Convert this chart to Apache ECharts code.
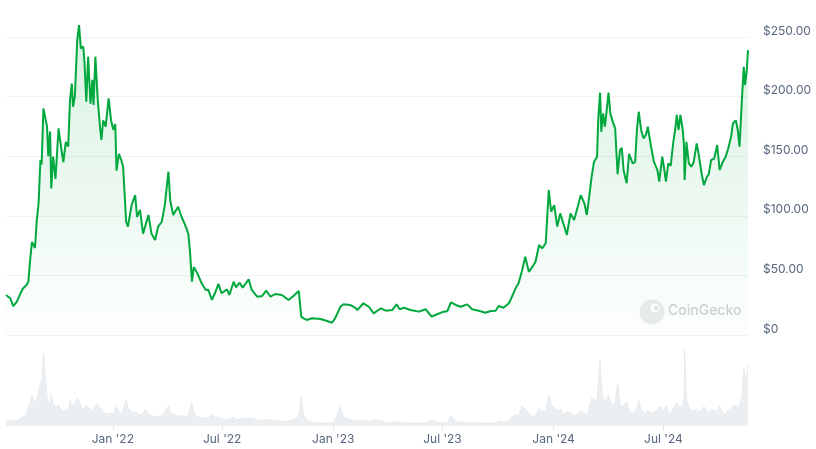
<!DOCTYPE html>
<html><head><meta charset="utf-8">
<script src="https://cdn.jsdelivr.net/npm/echarts@6/dist/echarts.min.js"></script>
<style>html,body{margin:0;padding:0;background:#fff}#c{width:816px;height:449px}</style>
</head><body><div id="c"></div>
<script>
const dates = ["2021-07-08","2021-07-15","2021-07-20","2021-07-26","2021-08-01","2021-08-05","2021-08-11","2021-08-14","2021-08-17","2021-08-20","2021-08-25","2021-08-28","2021-08-31","2021-09-03","2021-09-05","2021-09-08","2021-09-14","2021-09-16","2021-09-19","2021-09-21","2021-09-24","2021-09-28","2021-10-03","2021-10-08","2021-10-11","2021-10-15","2021-10-19","2021-10-22","2021-10-25","2021-10-27","2021-10-30","2021-11-03","2021-11-06","2021-11-09","2021-11-13","2021-11-15","2021-11-18","2021-11-21","2021-11-25","2021-11-28","2021-11-30","2021-12-03","2021-12-07","2021-12-11","2021-12-13","2021-12-16","2021-12-20","2021-12-25","2021-12-29","2022-01-02","2022-01-05","2022-01-07","2022-01-11","2022-01-15","2022-01-18","2022-01-23","2022-01-26","2022-02-01","2022-02-07","2022-02-10","2022-02-15","2022-02-20","2022-02-24","2022-03-01","2022-03-06","2022-03-12","2022-03-17","2022-03-23","2022-03-28","2022-04-03","2022-04-06","2022-04-11","2022-04-19","2022-04-25","2022-05-01","2022-05-06","2022-05-09","2022-05-12","2022-05-15","2022-05-21","2022-05-28","2022-06-04","2022-06-08","2022-06-14","2022-06-19","2022-06-25","2022-06-30","2022-07-09","2022-07-13","2022-07-20","2022-07-24","2022-07-30","2022-08-04","2022-08-14","2022-08-19","2022-08-28","2022-09-05","2022-09-12","2022-09-19","2022-09-27","2022-10-08","2022-10-19","2022-10-27","2022-11-05","2022-11-09","2022-11-13","2022-11-18","2022-11-27","2022-12-11","2022-12-22","2022-12-30","2023-01-04","2023-01-13","2023-01-18","2023-01-29","2023-02-06","2023-02-10","2023-02-20","2023-03-01","2023-03-09","2023-03-21","2023-03-29","2023-04-09","2023-04-16","2023-04-21","2023-04-28","2023-05-09","2023-05-23","2023-06-03","2023-06-13","2023-06-22","2023-07-03","2023-07-09","2023-07-15","2023-07-23","2023-07-31","2023-08-11","2023-08-19","2023-08-30","2023-09-10","2023-09-19","2023-09-27","2023-10-02","2023-10-10","2023-10-19","2023-10-24","2023-10-30","2023-11-04","2023-11-10","2023-11-15","2023-11-21","2023-11-27","2023-12-02","2023-12-08","2023-12-13","2023-12-19","2023-12-24","2023-12-28","2024-01-02","2024-01-07","2024-01-12","2024-01-17","2024-01-23","2024-01-29","2024-02-04","2024-02-10","2024-02-15","2024-02-21","2024-02-25","2024-02-29","2024-03-04","2024-03-08","2024-03-13","2024-03-15","2024-03-18","2024-03-20","2024-03-23","2024-03-26","2024-03-29","2024-04-01","2024-04-04","2024-04-08","2024-04-12","2024-04-16","2024-04-20","2024-04-23","2024-04-26","2024-05-01","2024-05-05","2024-05-11","2024-05-15","2024-05-18","2024-05-21","2024-05-25","2024-05-29","2024-06-02","2024-06-05","2024-06-10","2024-06-15","2024-06-21","2024-06-24","2024-06-29","2024-07-02","2024-07-05","2024-07-09","2024-07-13","2024-07-17","2024-07-21","2024-07-23","2024-07-26","2024-07-29","2024-08-02","2024-08-04","2024-08-05","2024-08-08","2024-08-12","2024-08-16","2024-08-20","2024-08-25","2024-08-29","2024-09-02","2024-09-06","2024-09-11","2024-09-14","2024-09-18","2024-09-23","2024-09-28","2024-10-02","2024-10-07","2024-10-12","2024-10-16","2024-10-21","2024-10-24","2024-10-29","2024-11-01","2024-11-04","2024-11-08","2024-11-11","2024-11-13","2024-11-16","2024-11-18"];
const prices = [33.5,30.8,24.3,28,35,39,42,44.7,63,78,73,96.5,110.7,146.8,143,190,174.8,150,170.6,123,149.6,131,173.4,155,145,162,158,197,211,191.5,200,247.5,260,240.5,242,229,195.7,233.5,194,214,193,233.5,197,173,163.6,180,174.7,198.6,180,172,177,138,152,146.8,141,95,91,109,117.4,99,104.9,85,92,100.7,85,79.7,91,95,109,137,113,100.7,107.6,99,92,85,68.5,44.7,57,51.7,43.4,37.8,38,29.4,35,42.8,35,38.3,33.6,44.7,40,43.9,39.7,46.7,37.8,32.1,32.7,37.2,32.1,34.4,33.6,29.4,32.7,36.9,15.4,14,12.6,14,13.4,11.7,10.3,14,23.7,25.8,25.2,23,21,26.6,23.7,18.2,22.4,20.4,21,25.7,21.6,22.9,21,19.6,21.6,15.4,17.4,19.6,20,27.4,25.2,23.7,25.7,21.6,20.4,18.7,20.1,20.4,24.3,22.9,26.6,32.1,39.2,43.4,54.5,65.7,53,57.3,61.5,75.5,72.7,77,121.6,103.4,109,91,102,93.7,84,102,96.5,107.6,117.4,110.5,100.7,116,132.8,145.4,149.6,181.8,203.3,170.6,186,174.7,188.8,203.3,186,179,173.4,135,155.2,157,138,127.3,152,144,145,172,187.3,172,165,168,174.7,159.4,145.4,138.4,128.6,149.6,140,128.6,144,142,160.8,174.7,184.6,172,184.6,172,158,130,162,144,141.2,145,160.8,149.6,135.7,125.8,132.8,135,146.8,148,159.4,138.4,145,149.6,156,166.4,177.6,180,172,158,198.6,225,209.7,222.3,239];
const volumes = [0.7,0.6,0.6,0.7,1.0,1.2,1.5,2.8,3.5,4.5,3.0,3.8,5.0,6.5,5.0,10.8,4.2,3.5,3.0,4.5,3.2,2.5,3.0,2.2,2.0,2.2,2.0,3.8,3.5,2.8,2.5,4.0,3.8,3.0,2.2,2.4,3.0,2.6,2.4,2.0,2.6,2.8,3.2,2.0,2.6,2.0,1.8,1.6,1.8,1.6,1.8,2.8,2.0,1.5,1.6,3.8,2.6,2.0,1.9,1.7,1.5,1.6,2.4,1.7,1.4,1.2,1.3,1.4,2.0,2.8,2.0,1.6,1.3,1.4,1.3,1.4,2.6,3.4,1.8,1.2,1.1,1.0,1.0,1.7,1.1,1.2,0.9,0.8,0.9,1.2,0.8,0.9,1.0,1.0,1.0,0.7,0.7,0.8,0.7,0.7,0.5,0.6,0.8,1.2,4.2,1.5,0.8,0.4,0.3,0.3,0.3,0.8,2.8,1.2,0.8,0.6,0.6,0.8,0.5,0.7,0.6,0.4,0.3,0.5,0.4,0.3,0.3,0.3,0.3,0.7,0.4,0.3,0.3,1.4,0.5,0.4,0.3,0.4,0.3,0.3,0.3,0.3,0.6,0.4,0.6,1.2,1.5,1.4,2.8,2.4,1.8,1.2,1.4,2.4,2.0,2.2,4.4,3.2,2.6,2.2,2.4,1.6,2.0,1.8,1.3,1.6,2.2,1.8,1.5,2.4,4.0,3.8,3.6,6.5,9.6,6.0,4.0,3.5,3.3,4.5,3.5,3.0,3.5,6.2,3.2,2.6,2.4,3.5,2.2,1.6,2.2,2.6,3.8,2.2,2.0,1.6,2.2,1.8,2.0,2.2,2.8,2.6,2.0,3.0,2.0,1.6,2.6,3.0,3.4,2.8,3.0,2.8,4.0,11.4,4.0,2.6,2.2,2.2,2.4,2.0,2.2,2.8,2.0,1.5,2.4,2.2,2.0,2.8,1.8,1.6,2.2,2.4,2.8,3.0,2.4,3.0,4.5,8.5,8.8,6.0,9.0];
const priceTickValues = [0, 50, 100, 150, 200, 250];
const timeTickDates = ["2022-01-01","2022-07-01","2023-01-01","2023-07-01","2024-01-01","2024-07-01"];

const ts = d => Date.parse(d + "T00:00:00Z");
const priceData = dates.map((d, i) => [ts(d), prices[i]]);
const volData = dates.map((d, i) => [ts(d), volumes[i]]);
const xMin = ts(dates[0]), xMax = ts(dates[dates.length - 1]);
const tickTs = timeTickDates.map(ts);
const monthNames = ["Jan","Feb","Mar","Apr","May","Jun","Jul","Aug","Sep","Oct","Nov","Dec"];
const fmtDate = v => { const d = new Date(v); return monthNames[d.getUTCMonth()] + " '" + String(d.getUTCFullYear()).slice(2); };
const labelColor = '#58667e';
const gridColor = '#eff2f5';
const FONT = 'Inter, "Noto Sans", sans-serif';

const chart = echarts.init(document.getElementById('c'), null, {renderer: 'canvas'});
chart.setOption({
  animation: false,
  backgroundColor: '#fff',
  textStyle: {fontFamily: FONT},
  grid: [
    {left: 6, right: 68, top: 37, height: 298},
    {left: 6, right: 68, top: 345, height: 80}
  ],
  graphic: [
    {type: 'circle', z: 0, shape: {cx: 652, cy: 312, r: 12.5}, style: {fill: '#e9ebee'}},
    {type: 'circle', z: 0, shape: {cx: 655, cy: 308, r: 4.5}, style: {fill: '#ffffff'}},
    {type: 'circle', z: 0, shape: {cx: 656, cy: 308, r: 2}, style: {fill: '#dcdfe3'}},
    {type: 'text', z: 0, left: 668, top: 304, style: {text: 'CoinGecko', fill: '#cdd1d6', font: '500 14px ' + FONT}}
  ],
  xAxis: [
    {type: 'value', gridIndex: 0, min: xMin, max: xMax, show: false, splitLine: {show: false}},
    {type: 'value', gridIndex: 1, min: xMin, max: xMax,
      axisLine: {show: true, lineStyle: {color: gridColor, width: 1}},
      axisTick: {show: true, customValues: tickTs, length: 6, lineStyle: {color: '#e6e9ed'}},
      axisLabel: {customValues: tickTs, formatter: v => fmtDate(v), color: labelColor, fontSize: 12, margin: 8, fontFamily: FONT},
      splitLine: {show: false}}
  ],
  yAxis: [
    {type: 'value', gridIndex: 0, position: 'right', min: 0, max: 250, interval: 50,
      axisLine: {show: false}, axisTick: {show: false},
      splitLine: {show: true, lineStyle: {color: gridColor, width: 1}},
      axisLabel: {align: 'left', verticalAlign: 'bottom', margin: 15, color: labelColor, fontSize: 12, fontFamily: FONT,
        formatter: v => v === 0 ? '$0' : '$' + v.toFixed(2)}},
    {type: 'value', gridIndex: 1, min: 0, max: 12, show: false, splitLine: {show: false}}
  ],
  series: [
    {type: 'line', name: 'Volume', xAxisIndex: 1, yAxisIndex: 1, data: volData, showSymbol: false, z: 1,
      lineStyle: {color: '#e4e8ec', width: 0.8}, areaStyle: {color: '#eceff2', opacity: 1}},
    {type: 'line', name: 'Price', xAxisIndex: 0, yAxisIndex: 0, data: priceData, showSymbol: false, clip: false, z: 3,
      lineStyle: {color: '#00a83e', width: 2}, itemStyle: {color: '#00a83e'},
      areaStyle: {color: new echarts.graphic.LinearGradient(0, 0, 0, 1, [
        {offset: 0, color: 'rgba(0,168,62,0.22)'},
        {offset: 1, color: 'rgba(0,168,62,0.01)'}
      ])}}
  ]
});
</script></body></html>
